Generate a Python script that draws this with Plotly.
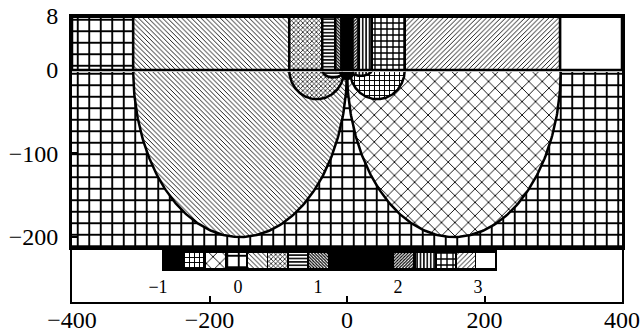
import numpy as np
import plotly.graph_objects as go

# ---------------- data ----------------
x_ticks = [-400, -200, 0, 200, 400]
y_top_ticks = [0, 8]
y_mid_ticks = [-100, -200]
strip_ticks = [-1, 0, 1, 2, 3]

# upper band (0 .. 8): column edges and fills
band_edges = [-400, -311, -84, -36, -17, -8, 8, 17, 36, 84, 310, 400]
band_top = 8
band_fill = ['grid', 'bslash', 'cross', 'hlines', 'dbslash', 'black',
             'dslash', 'vlines', 'sgrid', 'slash', 'white']

# lower region (0 .. bottom)
mid_extent = [-400, 400]
mid_bottom = -212

# half-elliptic lobes hanging below 0: centre, half-width, depth, fill
lobe_cx = [-155.5, 155.5, -44, 44, -20, 20, 0]
lobe_a = [155.5, 155.5, 40, 40, 16, 16, 10]
lobe_depth = [200, 200, 35, 35, 9, 7, 11]
lobe_fill = ['bslash', 'bigx', 'cross', 'brick', 'hlines', 'vlines', 'black']

# key strip
strip_span = [-0.95, 3.24]
swatch_pos = [-0.55, -0.28, -0.02, 0.24, 0.49, 0.75, 1.01,
              2.07, 2.34, 2.6, 2.85, 3.09]
swatch_fill = ['brick', 'bigx', 'grid', 'bslash', 'cross', 'hlines', 'dbslash',
               'dslash', 'vlines', 'sgrid', 'slash', 'white']

# ---------------- styles ----------------
PAT = {
    'grid':    ('+', 11.5, 0.30),
    'sgrid':   ('+', 6.0, 0.40),
    'brick':   ('+', 5.0, 0.35),
    'bslash':  ('\\', 3.4, 0.26),
    'slash':   ('/', 3.4, 0.26),
    'dbslash': ('\\', 2.2, 0.55),
    'dslash':  ('/', 2.2, 0.55),
    'cross':   ('x', 3.2, 0.40),
    'bigx':    ('x', 9.5, 0.18),
    'hlines':  ('-', 3.4, 0.45),
    'vlines':  ('|', 3.4, 0.45),
}
FONT = 'Liberation Serif'


def pat(name):
    s, z, so = PAT[name]
    return dict(shape=s, size=z, solidity=so, fgcolor='black',
                bgcolor='white', fillmode='replace')


def poly(xs, ys, name, xa, ya, lw):
    kw = dict(x=list(xs), y=list(ys), mode='lines', fill='toself',
              line=dict(color='black', width=lw), xaxis=xa, yaxis=ya,
              hoverinfo='skip', showlegend=False)
    if name == 'black':
        kw['fillcolor'] = 'black'
    elif name == 'white':
        kw['fillcolor'] = 'white'
    else:
        kw['fillcolor'] = 'white'
        kw['fillpattern'] = pat(name)
    return go.Scatter(**kw)


fig = go.Figure()

# empty trace so that the bottom (axis) subplot is created
fig.add_trace(go.Scatter(x=[None], y=[None], mode='lines', xaxis='x',
                         yaxis='y', hoverinfo='skip', showlegend=False))

# lower region background
x0, x1 = mid_extent
fig.add_trace(poly([x0, x1, x1, x0, x0], [0, 0, mid_bottom, mid_bottom, 0],
                   'grid', 'x2', 'y2', 0))

# lobes
t = np.linspace(0, np.pi, 181)
for cx, a, b, f in zip(lobe_cx, lobe_a, lobe_depth, lobe_fill):
    xs = np.append(cx + a * np.cos(t), cx + a)
    ys = np.append(-b * np.sin(t), 0)
    fig.add_trace(poly(xs, ys, f, 'x2', 'y2', 2.5))

# zero line
fig.add_trace(go.Scatter(x=mid_extent, y=[0, 0], mode='lines',
                         line=dict(color='black', width=2.5),
                         xaxis='x2', yaxis='y2', hoverinfo='skip',
                         showlegend=False))

# upper band columns
for e0, e1, f in zip(band_edges[:-1], band_edges[1:], band_fill):
    fig.add_trace(poly([e0, e1, e1, e0, e0], [0, 0, band_top, band_top, 0],
                       f, 'x3', 'y3', 2.5))
fig.add_trace(go.Scatter(x=mid_extent, y=[band_top, band_top], mode='lines',
                         line=dict(color='black', width=4),
                         xaxis='x3', yaxis='y3', hoverinfo='skip',
                         showlegend=False))

# key strip: black base + patterned swatches
fig.add_trace(go.Bar(x=[(strip_span[0] + strip_span[1]) / 2], y=[1], base=[0],
                     width=[strip_span[1] - strip_span[0]],
                     marker=dict(color='black', line=dict(width=0)),
                     xaxis='x4', yaxis='y4', hoverinfo='skip', showlegend=False))
shapes = [PAT[f][0] if f in PAT else '' for f in swatch_fill]
sizes = [PAT[f][1] if f in PAT else 8 for f in swatch_fill]
solid = [PAT[f][2] if f in PAT else 0.3 for f in swatch_fill]
fig.add_trace(go.Bar(x=swatch_pos, y=[0.76] * len(swatch_pos),
                     base=[0.12] * len(swatch_pos),
                     width=[0.235] * len(swatch_pos),
                     marker=dict(color='white', line=dict(width=0),
                                 pattern=dict(shape=shapes, size=sizes,
                                              solidity=solid, fgcolor='black',
                                              bgcolor='white',
                                              fillmode='replace')),
                     xaxis='x4', yaxis='y4', hoverinfo='skip', showlegend=False))

# ---------------- layout ----------------
H_TOP, H_BOT = 14, 302
PLOT_H = H_BOT - H_TOP


def P(px):
    return (H_BOT - px) / PLOT_H


tickfont = dict(family=FONT, size=24, color='black')
hidden = dict(showticklabels=False, ticks='', showgrid=False, zeroline=False,
              automargin=False)

fig.update_layout(
    width=642, height=336, autosize=False,
    margin=dict(l=72, r=20, t=H_TOP, b=336 - H_BOT, pad=0, autoexpand=False),
    paper_bgcolor='white', plot_bgcolor='white',
    barmode='overlay', bargap=0,
    showlegend=False,
    xaxis=dict(range=[-400, 400], domain=[0, 1], anchor='y',
               tickvals=x_ticks, ticks='inside', ticklen=6, tickwidth=1.5,
               tickcolor='black', showline=True, linewidth=1.5,
               linecolor='black', showgrid=False, zeroline=False,
               tickfont=tickfont, ticklabelstandoff=-5, automargin=False),
    yaxis=dict(range=[0, 1], domain=[0, P(247)], anchor='x',
               showline=True, mirror=True, linewidth=1.5, linecolor='black',
               **hidden),
    xaxis2=dict(range=[-400, 400], domain=[0, 1], anchor='y2',
                showline=True, linewidth=3, linecolor='black', **hidden),
    yaxis2=dict(range=[mid_bottom, 2.4], domain=[P(247), P(68)], anchor='x2',
                tickvals=y_mid_ticks, ticks='inside', ticklen=6, tickwidth=1.5,
                tickcolor='black', showline=True, mirror=True, linewidth=3,
                linecolor='black', showgrid=False, zeroline=False,
                tickfont=tickfont, ticklabelstandoff=6, automargin=False),
    xaxis3=dict(range=[-400, 400], domain=[0, 1], anchor='y3', **hidden),
    yaxis3=dict(range=[-0.3, 8.3], domain=[P(72), 1], anchor='x3',
                tickvals=y_top_ticks, ticks='', showline=True, mirror=True,
                linewidth=3, linecolor='black', showgrid=False,
                zeroline=False, tickfont=tickfont, ticklabelstandoff=6,
                automargin=False),
    xaxis4=dict(range=[-2.075, 4.8], domain=[0, 1], anchor='y4',
                tickvals=strip_ticks, ticks='', showline=False,
                showgrid=False, zeroline=False,
                tickfont=dict(family=FONT, size=18, color='black'),
                ticklabelstandoff=3, automargin=False),
    yaxis4=dict(range=[0, 1], domain=[P(271), P(250)], anchor='x4', **hidden),
)

fig.write_html('out.html', config={'displayModeBar': False},
               post_script="document.body.style.margin='0';")
